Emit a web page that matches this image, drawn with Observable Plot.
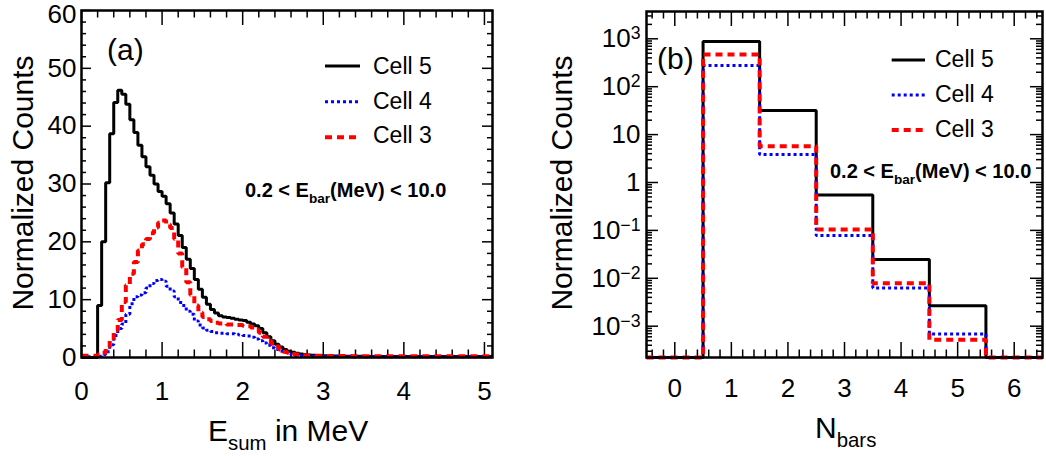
<!DOCTYPE html>
<html><head><meta charset="utf-8">
<script src="https://cdn.jsdelivr.net/npm/d3@7"></script>
<script src="https://cdn.jsdelivr.net/npm/@observablehq/plot@0.6"></script>
<style>
html,body{margin:0;padding:0;background:#fff;}
#wrap{position:relative;width:1046px;height:456px;overflow:hidden;background:#fff;}
#wrap svg{position:absolute;top:0;}
</style></head><body><div id="wrap"></div>
<script>
// ---------- Panel (a): E_sum spectra ----------
// bins: [0,0.20] low region, then 0.05 MeV bins from 0.20 to 3.50, then one tail bin to 5.1
const esumFirstEdge = 0.0;
const esumBinStart = 0.20;
const esumBinWidth = 0.05;
const esumNBins = 66;
const esumTailEnd = 5.1;
const esumCell5 = [0,
  9.0,20.0,30.2,38.7,44.1,46.2,45.5,43.8,41.1,38.9,
  36.7,34.7,33.0,31.5,30.0,28.7,27.9,26.6,25.0,23.1,
  21.1,19.0,17.0,15.4,13.5,11.8,10.4,9.2,8.3,7.7,
  7.2,7.0,6.9,6.8,6.6,6.5,6.4,6.1,5.8,5.5,
  5.0,4.3,3.6,2.9,2.3,1.8,1.4,1.1,0.9,0.75,
  0.6,0.5,0.45,0.4,0.35,0.32,0.3,0.28,0.26,0.25,
  0.24,0.23,0.22,0.21,0.2,0.2,
  0.18];
const esumCell4 = [0.15,
  0.2,0.5,1.0,2.2,3.8,5.0,5.8,7.5,9.3,10.5,
  10.8,11.2,12.0,12.8,13.3,13.5,13.2,12.3,11.5,10.5,
  9.5,9.0,8.0,7.5,6.3,5.6,5.1,4.7,4.5,4.3,
  4.2,4.2,4.1,4.1,4.0,3.9,3.8,3.7,3.5,3.2,
  2.9,2.5,2.1,1.7,1.4,1.1,0.85,0.6,0.45,0.35,
  0.3,0.25,0.22,0.2,0.2,0.19,0.18,0.18,0.17,0.17,
  0.16,0.16,0.16,0.15,0.15,0.15,
  0.15];
const esumCell3 = [0.3,
  0.5,0.8,1.8,3.0,4.7,6.5,9.6,12.5,14.5,16.5,
  18.5,19.6,20.5,21.5,22.5,23.3,23.7,23.0,22.4,20.5,
  18.0,15.6,13.0,10.8,9.0,7.8,7.0,6.6,6.3,6.0,
  5.9,5.8,5.7,5.7,5.6,5.6,5.5,5.4,5.2,4.8,
  4.3,3.6,3.0,2.4,1.9,1.4,1.0,0.8,0.6,0.5,
  0.4,0.38,0.35,0.33,0.3,0.3,0.28,0.27,0.26,0.25,
  0.25,0.24,0.24,0.23,0.23,0.22,
  0.22];
const esumTicks = [0, 1, 2, 3, 4, 5];
const esumTickLabels = ["0", "1", "2", "3", "4", "5"];
const countTicks = [0, 10, 20, 30, 40, 50, 60];

// ---------- Panel (b): N_bars multiplicity ----------
const nbars = [0, 1, 2, 3, 4, 5, 6];
const nbarsCell5 = [0, 880, 31.8, 0.55, 0.0247, 0.00267, 0];
const nbarsCell4 = [0, 277, 3.85, 0.078, 0.0063, 0.00069, 0];
const nbarsCell3 = [0, 470, 5.7, 0.105, 0.0079, 0.00052, 0];
const nbarsTicks = [0, 1, 2, 3, 4, 5, 6];
const nbarsTickLabels = ["0", "1", "2", "3", "4", "5", "6"];
const logTickValues = [1e-3, 1e-2, 1e-1, 1, 10, 100, 1000];
const logTickLabels = ["10^\u22123", "10^\u22122", "10^\u22121", "1", "10", "10^2", "10^3"];

const seriesNames = ["Cell 5", "Cell 4", "Cell 3"];
const annotationParts = ["0.2 < E", {sub: "bar"}, "(MeV) < 10.0"];

// ---------- helpers ----------
const FONT = "'Liberation Sans', Arial, Helvetica, sans-serif";
const styles = {
  "Cell 5": {stroke: "#000000", strokeWidth: 3, strokeDasharray: null},
  "Cell 4": {stroke: "#0000ff", strokeWidth: 3, strokeDasharray: "3,3"},
  "Cell 3": {stroke: "#ff0000", strokeWidth: 4, strokeDasharray: "7,5"}
};

const esumEdges = [esumFirstEdge,
  ...d3.range(esumNBins + 1).map(i => +(esumBinStart + esumBinWidth * i).toFixed(2)),
  esumTailEnd];

function stepPoints(edges, values) {
  const pts = values.map((v, i) => ({x: edges[i], v}));
  pts.push({x: edges[edges.length - 1], v: values[values.length - 1]});
  return pts;
}

function histLine(pts, name, yOf) {
  const s = styles[name];
  return Plot.line(pts, {
    x: "x", y: yOf, curve: "step-after",
    stroke: s.stroke, strokeWidth: s.strokeWidth, strokeDasharray: s.strokeDasharray,
    strokeLinecap: "butt", strokeLinejoin: "miter"
  });
}

function addText(svg, {x, y, size, weight = "normal", anchor = "start", rotate = 0, parts}) {
  const t = d3.select(svg).append("text")
    .attr("transform", `translate(${x},${y})` + (rotate ? ` rotate(${rotate})` : ""))
    .attr("font-size", size).attr("font-weight", weight).attr("text-anchor", anchor)
    .attr("font-family", FONT).attr("fill", "black").style("white-space", "pre");
  const subSize = size * 0.68, subDy = size * 0.3;
  let shifted = false;
  parts.forEach(p => {
    const ts = t.append("tspan");
    if (typeof p === "string") {
      ts.text(p);
      if (shifted) { ts.attr("dy", -subDy); shifted = false; }
    } else {
      ts.text(p.sub).attr("font-size", subSize).attr("dy", subDy);
      shifted = true;
    }
  });
}

function addLegend(svg, x1, x2, tx, lineYs, textYs) {
  const g = d3.select(svg).append("g");
  seriesNames.forEach((name, i) => {
    const s = styles[name];
    g.append("line").attr("x1", x1).attr("x2", x2).attr("y1", lineYs[i]).attr("y2", lineYs[i])
      .attr("stroke", s.stroke).attr("stroke-width", s.strokeWidth)
      .attr("stroke-dasharray", s.strokeDasharray);
    g.append("text").attr("x", tx).attr("y", textYs[i]).attr("font-size", 23)
      .attr("text-anchor", "start")
      .attr("font-family", FONT).attr("fill", "black").text(name);
  });
}

function superscripts(svg) {
  d3.select(svg).selectAll("text").each(function () {
    const m = this.textContent.match(/^10\^(.+)$/);
    if (m) {
      this.textContent = "10";
      d3.select(this).append("tspan").attr("dy", "-0.45em").attr("font-size", "0.68em").text(m[1]);
    }
  });
}

const H = 456;
const wrap = document.getElementById("wrap");

// ---------- Panel (a) ----------
{
  const W = 520, m = {top: 10, right: 28, bottom: 99, left: 81};
  const fh = H - m.top - m.bottom, fw = W - m.left - m.right;
  const xMinor = d3.range(0, 5.1, 0.2).map(v => +v.toFixed(2)).filter(v => !esumTicks.includes(v));
  const yMinor = d3.range(0, 61, 2).filter(v => !countTicks.includes(v));
  const tick = {stroke: "black", strokeWidth: 1.5};
  const svg = Plot.plot({
    width: W, height: H,
    marginTop: m.top, marginRight: m.right, marginBottom: m.bottom, marginLeft: m.left,
    style: {fontFamily: FONT, fontSize: "26px", color: "black", background: "white", overflow: "visible"},
    x: {domain: [0, esumTailEnd], ticks: esumTicks, tickSize: 0, tickPadding: 24, label: null,
        tickFormat: d => esumTickLabels[esumTicks.indexOf(d)] ?? ""},
    y: {domain: [0, 60], ticks: countTicks, tickSize: 0, tickPadding: 5, label: null,
        tickFormat: d => String(d)},
    marks: [
      Plot.ruleX(esumTicks, {...tick, insetTop: fh - 15}),
      Plot.ruleX(xMinor, {...tick, insetTop: fh - 7.5}),
      Plot.ruleX(esumTicks, {...tick, insetBottom: fh - 15}),
      Plot.ruleX(xMinor, {...tick, insetBottom: fh - 7.5}),
      Plot.ruleY(countTicks, {...tick, insetRight: fw - 10}),
      Plot.ruleY(yMinor, {...tick, insetRight: fw - 5}),
      Plot.ruleY(countTicks, {...tick, insetLeft: fw - 10}),
      Plot.ruleY(yMinor, {...tick, insetLeft: fw - 5}),
      histLine(stepPoints(esumEdges, esumCell5), "Cell 5", "v"),
      histLine(stepPoints(esumEdges, esumCell4), "Cell 4", "v"),
      histLine(stepPoints(esumEdges, esumCell3), "Cell 3", "v"),
      Plot.frame({stroke: "black", strokeWidth: 2.5})
    ]
  });
  svg.style.left = "0px";
  wrap.appendChild(svg);
  // nudge the top tick label down so it stays inside the picture (as in the reference)
  d3.select(svg).selectAll("text").filter(function () { return this.textContent === "60"; })
    .attr("transform", function () { return (this.getAttribute("transform") || "") + " translate(0,4)"; });
  addText(svg, {x: 33, y: 183, size: 30, anchor: "middle", rotate: -90, parts: ["Normalized Counts"]});
  addText(svg, {x: 208, y: 441, size: 30, parts: ["E", {sub: "sum"}, " in MeV"]});
  addText(svg, {x: 107, y: 60, size: 30, parts: ["(a)"]});
  addText(svg, {x: 245, y: 197, size: 20, weight: "bold", parts: annotationParts});
  addLegend(svg, 325, 360, 373, [66, 101.7, 137.3], [74.3, 109.3, 143.3]);
}

// ---------- Panel (b) ----------
{
  const W = 526, m = {top: 11, right: 4, bottom: 99, left: 126};
  const fh = H - m.top - m.bottom, fw = W - m.left - m.right;
  const yDomain = [2.22e-4, 3715];
  const xMinor = d3.range(-0.4, 6.5, 0.2).map(v => +v.toFixed(2)).filter(v => !nbarsTicks.includes(v));
  const yMinor = [];
  for (let e = -4; e <= 3; e++) for (let k = 2; k <= 9; k++) {
    const v = k * Math.pow(10, e);
    if (v > yDomain[0] && v < yDomain[1]) yMinor.push(v);
  }
  const tick = {stroke: "black", strokeWidth: 1.5};
  const edges = [...nbars.map(n => n - 0.5), nbars[nbars.length - 1] + 0.5];
  const yOf = d => (d.v > 0 ? d.v : yDomain[0]);
  const svg = Plot.plot({
    width: W, height: H,
    marginTop: m.top, marginRight: m.right, marginBottom: m.bottom, marginLeft: m.left,
    style: {fontFamily: FONT, fontSize: "26px", color: "black", background: "white", overflow: "visible"},
    x: {domain: [-0.5, 6.5], ticks: nbarsTicks, tickSize: 0, tickPadding: 21, label: null,
        tickFormat: d => nbarsTickLabels[nbarsTicks.indexOf(d)] ?? ""},
    y: {type: "log", domain: yDomain, ticks: logTickValues, tickSize: 0, tickPadding: 6, label: null,
        tickFormat: d => logTickLabels[logTickValues.indexOf(d)] ?? ""},
    marks: [
      Plot.ruleX(nbarsTicks, {...tick, insetTop: fh - 15}),
      Plot.ruleX(xMinor, {...tick, insetTop: fh - 7.5}),
      Plot.ruleX(nbarsTicks, {...tick, insetBottom: fh - 15}),
      Plot.ruleX(xMinor, {...tick, insetBottom: fh - 7.5}),
      Plot.ruleY(logTickValues, {...tick, insetRight: fw - 12}),
      Plot.ruleY(yMinor, {...tick, insetRight: fw - 6}),
      Plot.ruleY(logTickValues, {...tick, insetLeft: fw - 12}),
      Plot.ruleY(yMinor, {...tick, insetLeft: fw - 6}),
      histLine(stepPoints(edges, nbarsCell5), "Cell 5", yOf),
      histLine(stepPoints(edges, nbarsCell4), "Cell 4", yOf),
      histLine(stepPoints(edges, nbarsCell3), "Cell 3", yOf),
      Plot.frame({stroke: "black", strokeWidth: 2.5})
    ]
  });
  svg.style.left = "520px";
  wrap.appendChild(svg);
  superscripts(svg);
  addText(svg, {x: 52, y: 183, size: 30, anchor: "middle", rotate: -90, parts: ["Normalized Counts"]});
  addText(svg, {x: 295, y: 438, size: 30, parts: ["N", {sub: "bars"}]});
  addText(svg, {x: 137, y: 69, size: 30, parts: ["(b)"]});
  addText(svg, {x: 310, y: 178, size: 20, weight: "bold", parts: annotationParts});
  addLegend(svg, 371.7, 405, 415, [60, 95, 130], [66.7, 101.7, 137]);
}
</script></body></html>
